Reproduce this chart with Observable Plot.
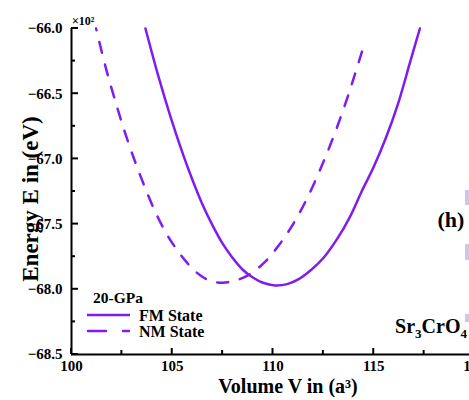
<!DOCTYPE html>
<html>
<head>
<meta charset="utf-8">
<script src="https://cdn.jsdelivr.net/npm/d3@7"></script>
<script src="https://cdn.jsdelivr.net/npm/@observablehq/plot@0.6"></script>
<style>
  html, body { margin: 0; padding: 0; background: #fff; }
  #chart svg { display: block; }
</style>
</head>
<body>
<div id="chart"></div>
<script>
// ---- data (energies in units of 10^2 eV) ----
const fmV = [103.67, 104.3, 104.9, 105.5, 106.0, 106.5, 107.0, 107.5, 108.0, 108.5, 109.0, 109.5, 110.1, 110.7, 111.3, 111.9, 112.5, 113.2, 113.8, 114.4, 115.0, 115.6, 116.2, 116.8, 117.29];
const fmE = [-66.00, -66.36, -66.67, -66.95, -67.16, -67.35, -67.51, -67.65, -67.76, -67.85, -67.91, -67.95, -67.97, -67.96, -67.92, -67.85, -67.76, -67.61, -67.45, -67.25, -67.06, -66.84, -66.58, -66.26, -66.00];
const nmV = [101.22, 101.7, 102.2, 102.7, 103.2, 103.7, 104.2, 104.7, 105.2, 105.7, 106.2, 106.8, 107.5, 108.2, 108.9, 109.6, 110.3, 111.0, 111.7, 112.4, 113.1, 113.8, 114.43];
const nmE = [-66.00, -66.30, -66.57, -66.82, -67.04, -67.24, -67.42, -67.57, -67.69, -67.79, -67.87, -67.93, -67.95, -67.93, -67.88, -67.79, -67.66, -67.50, -67.30, -67.06, -66.79, -66.48, -66.17];

const seriesNames = ["FM State", "NM State"];
const legendTitle = "20-GPa";
const xMajor = [100, 105, 110, 115, 120];
const xMinor = [102.5, 107.5, 112.5, 117.5];
const yMajor = [-66.0, -66.5, -67.0, -67.5, -68.0, -68.5];
const yMinor = [-66.25, -66.75, -67.25, -67.75, -68.25];
const xTitle = "Volume V in (a\u00B3)";
const yTitle = "Energy E in (eV)";
const yExponent = "\u00D710\u00B2";
const panelTag = "(h)";

// ---- chart ----
const font = "'Liberation Serif','Times New Roman',serif";
const purple = "#7f1cf0";
const fm = fmV.map((v, i) => ({V: v, E: fmE[i], s: seriesNames[0]}));
const nm = nmV.map((v, i) => ({V: v, E: nmE[i], s: seriesNames[1]}));

const chart = Plot.plot({
  width: 469,
  height: 400,
  marginLeft: 71,
  marginRight: -5,
  marginTop: 28,
  marginBottom: 46,
  style: {fontFamily: font, fontWeight: "bold", background: "white", color: "black", overflow: "hidden"},
  x: {domain: [100, 120], label: null},
  y: {domain: [-68.5, -66.0], label: null},
  marks: [
    // tick labels
    Plot.axisX({ticks: xMajor, tickSize: 0, tickPadding: 6, fontSize: 15, tickFormat: d3.format("d"), label: null}),
    Plot.axisY({ticks: yMajor, tickSize: 0, tickPadding: 9, fontSize: 15, tickFormat: d3.format(".1f"), label: null}),
    // axis lines
    Plot.ruleX([100], {y1: -68.5, y2: -66.0, strokeWidth: 2}),
    Plot.ruleY([-68.5], {x1: 100, x2: 120, strokeWidth: 2}),
    // curves
    Plot.line(fm, {x: "V", y: "E", stroke: purple, strokeWidth: 2.5, curve: "catmull-rom"}),
    Plot.line(nm, {x: "V", y: "E", stroke: purple, strokeWidth: 2.5, curve: "catmull-rom",
      strokeDasharray: "11,12", strokeDashoffset: 9, strokeLinecap: "round"})
  ]
});

document.getElementById("chart").appendChild(chart);
const svg = d3.select(chart);
const sx = chart.scale("x"), sy = chart.scale("y");

// ---- inward ticks, placed through the plot's own scales ----
const tk = svg.append("g").attr("stroke", "black").attr("stroke-width", 2);
const x0 = sx.apply(100), y0 = sy.apply(-68.5);
xMajor.forEach(v => tk.append("line").attr("x1", sx.apply(v)).attr("x2", sx.apply(v)).attr("y1", y0).attr("y2", y0 - 6));
xMinor.forEach(v => tk.append("line").attr("x1", sx.apply(v)).attr("x2", sx.apply(v)).attr("y1", y0).attr("y2", y0 - 4));
yMajor.forEach(v => tk.append("line").attr("y1", sy.apply(v)).attr("y2", sy.apply(v)).attr("x1", x0).attr("x2", x0 + 7));
yMinor.forEach(v => tk.append("line").attr("y1", sy.apply(v)).attr("y2", sy.apply(v)).attr("x1", x0).attr("x2", x0 + 4));

// ---- titles & annotations ----
const ann = svg.append("g").attr("font-family", font).attr("font-weight", "bold").attr("fill", "black");
ann.append("text").attr("transform", "translate(38,199) rotate(-90)").attr("text-anchor", "middle")
  .attr("font-size", 23).text(yTitle);
ann.append("text").attr("x", 288).attr("y", 393).attr("text-anchor", "middle").attr("font-size", 20).text(xTitle);
ann.append("text").attr("x", 72).attr("y", 25).attr("text-anchor", "start").attr("font-size", 12).text(yExponent);
ann.append("text").attr("x", 451).attr("y", 227).attr("text-anchor", "middle").attr("font-size", 22).text(panelTag);
const formula = ann.append("text").attr("x", 467).attr("y", 333).attr("text-anchor", "end").attr("font-size", 20);
formula.append("tspan").text("Sr");
formula.append("tspan").attr("font-size", 13).attr("dy", 5).text("3");
formula.append("tspan").attr("dy", -5).text("CrO");
formula.append("tspan").attr("font-size", 13).attr("dy", 5).text("4");

// ---- legend (inside plot area, lower-left) ----
const lg = svg.append("g").attr("font-family", font).attr("font-weight", "bold").attr("fill", "black").attr("text-anchor", "start");
lg.append("text").attr("x", 93).attr("y", 297).attr("dominant-baseline", "central").attr("font-size", 15.5).text(legendTitle);
lg.append("line").attr("x1", 87).attr("x2", 130).attr("y1", 315).attr("y2", 315)
  .attr("stroke", purple).attr("stroke-width", 2.5);
lg.append("text").attr("x", 139).attr("y", 315).attr("dominant-baseline", "central").attr("font-size", 16).text(seriesNames[0]);
lg.append("line").attr("x1", 88).attr("x2", 129).attr("y1", 331).attr("y2", 331)
  .attr("stroke", purple).attr("stroke-width", 2.5).attr("stroke-dasharray", "18,17").attr("stroke-linecap", "round");
lg.append("text").attr("x", 139).attr("y", 331).attr("dominant-baseline", "central").attr("font-size", 16).text(seriesNames[1]);

// faint fragments of the neighbouring panel at the right edge
const frag = svg.append("g").attr("fill", "#cdc6ec");
[[190, 15], [244, 16], [314, 8]].forEach(([y, h]) => frag.append("rect").attr("x", 465).attr("y", y).attr("width", 4).attr("height", h));
</script>
</body>
</html>
